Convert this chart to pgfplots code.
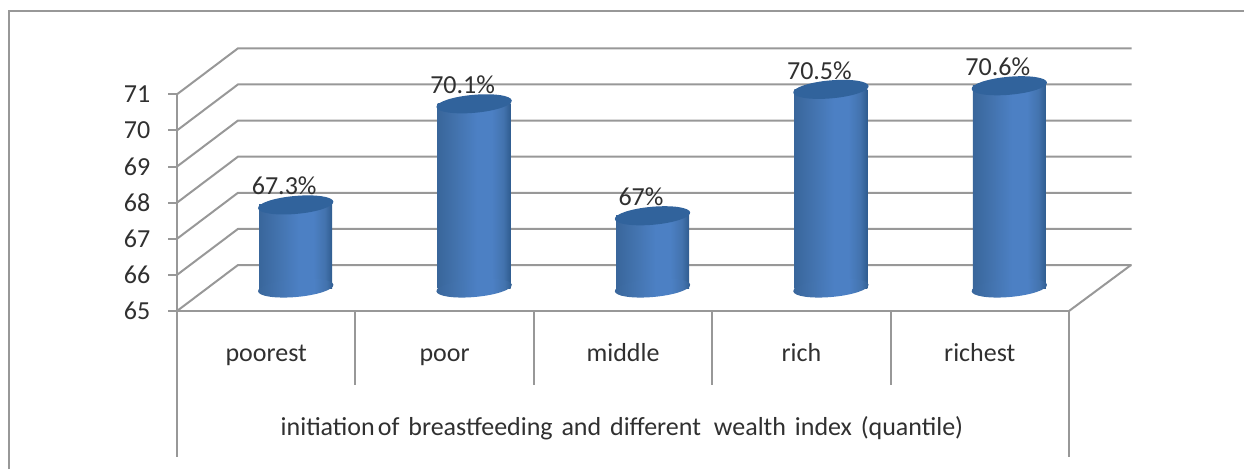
\documentclass[border=0pt]{standalone}
\usepackage{pgfplots}
\pgfplotsset{compat=1.18}
\usepackage{fontspec}
\setmainfont{Carlito}

% one drawing unit of the layout
\def\px{0.75pt}

\definecolor{gridgray}{HTML}{989898}
\definecolor{labelink}{HTML}{303030}
\definecolor{captop}{HTML}{31639C}
\definecolor{cA}{HTML}{39669B}
\definecolor{cB}{HTML}{4373AE}
\definecolor{cC}{HTML}{4C80C4}
\definecolor{cD}{HTML}{2F5C8F}

% side of a cylinder: dark rims, lighter band right of centre
\pgfdeclarehorizontalshading{cylbody}{100bp}{
  color(0bp)=(cA); color(25bp)=(cA); color(38bp)=(cB); color(52bp)=(cC);
  color(62bp)=(cC); color(70bp)=(cB); color(75bp)=(cD); color(100bp)=(cD)}

% tilted end faces of the cylinders
\pgfdeclareplotmark{cylcap}{%
  \pgftransformrotate{5}%
  \pgfpathellipse{\pgfpointorigin}{\pgfqpoint{28.35pt}{0pt}}{\pgfqpoint{0pt}{6.75pt}}%
  \pgfsetfillcolor{captop}%
  \pgfusepathqfill}
\pgfdeclareplotmark{cylfoot}{%
  \pgftransformrotate{5}%
  \pgfpathellipse{\pgfpointorigin}{\pgfqpoint{28.35pt}{0pt}}{\pgfqpoint{0pt}{6.75pt}}%
  \pgfshadepath{cylbody}{0}%
  \pgfusepath{discard}}

\pgfplotstableread{
x    y
0.5  67.3
1.5  70.1
2.5  67
3.5  70.5
4.5  70.6
}\wealthdata

\pgfplotstableread{
x    y
0.5  65
1.5  65
2.5  65
3.5  65
4.5  65
}\wealthbase

\pgfplotsset{cylside/.style={ybar,bar width=73*\px,bar shift=0pt,draw=none,shading=cylbody}}

\begin{document}
\begin{tikzpicture}
\path[use as bounding box] (0pt,0pt) rectangle (1244*\px,469*\px);

% outer chart frame
\draw[gridgray,line width=2.4*\px] (9*\px,0pt) -- (9*\px,458*\px) -- (1244*\px,458*\px);

% front plane: scale, category table, walls
\begin{axis}[
  at={(177*\px,158*\px)},anchor=south west,
  scale only axis,width=892*\px,height=216.7*\px,
  xmin=0,xmax=5,ymin=65,ymax=71,
  clip=false,
  axis line style={gridgray,line width=2*\px},
  axis x line*=bottom,axis y line*=left,
  xtick={0.5,1.5,2.5,3.5,4.5},
  xticklabels={poorest,poor,middle,rich,richest},
  x tick style={draw=none},
  ytick={65,66,...,71},
  y tick style={gridgray,line width=2*\px},
  major tick length=9*\px,
  tick align=outside,
  tick label style={font=\fontsize{19.5}{22}\selectfont,text=labelink},
  yticklabel style={xshift=-13*\px,/pgf/number format/assume math mode=true},
  xticklabel style={anchor=base,yshift=-41*\px},
  xlabel={\spaceskip=0.34em initiation\hspace{0.12em}of breastfeeding and different\hspace{0.5em}wealth index (quantile)},
  xlabel style={at={(axis description cs:0.5,0)},anchor=base,yshift=-124*\px,xshift=-1*\px,
    font=\fontsize{19.5}{22}\selectfont,text=labelink},
]
\pgfplotsinvokeforeach{65,...,71}{
  \draw[gridgray,line width=2*\px] (axis cs:0,#1) -- ++(61*\px,46*\px) -- ++(893.5*\px,0pt);
}
\draw[gridgray,line width=2*\px] (axis cs:5,65) -- ++(62*\px,46*\px);
\pgfplotsinvokeforeach{1,2,3,4}{
  \draw[gridgray,line width=2*\px] (axis cs:#1,65) -- ++(0pt,-74*\px);
}
\draw[gridgray,line width=2*\px] (axis cs:0,65) -- ++(0pt,-146*\px);
\draw[gridgray,line width=2*\px] (axis cs:5,65) -- ++(0pt,-146*\px);
\end{axis}

% cylinders stand halfway back on the floor
\begin{axis}[
  at={(206.5*\px,181*\px)},anchor=south west,
  scale only axis,width=892*\px,height=216.7*\px,
  xmin=0,xmax=5,ymin=65,ymax=71,
  clip=false,hide axis,
]
\addplot[only marks,mark=cylfoot] table[x=x,y=y] {\wealthbase};
\addplot[cylside] coordinates {(0.5,67.3)};
\addplot[cylside] coordinates {(1.5,70.1)};
\addplot[cylside] coordinates {(2.5,67)};
\addplot[cylside] coordinates {(3.5,70.5)};
\addplot[cylside] coordinates {(4.5,70.6)};
\addplot[only marks,mark=cylcap,
  nodes near coords={\pgfplotspointmeta\%},
  point meta=explicit symbolic,
  nodes near coords style={anchor=base,xshift=-11.5*\px,yshift=10*\px,inner sep=0pt,
    font=\fontsize{19.5}{22}\selectfont,text=labelink},
] table[x=x,y=y,meta=y] {\wealthdata};
\end{axis}
\end{tikzpicture}
\end{document}
